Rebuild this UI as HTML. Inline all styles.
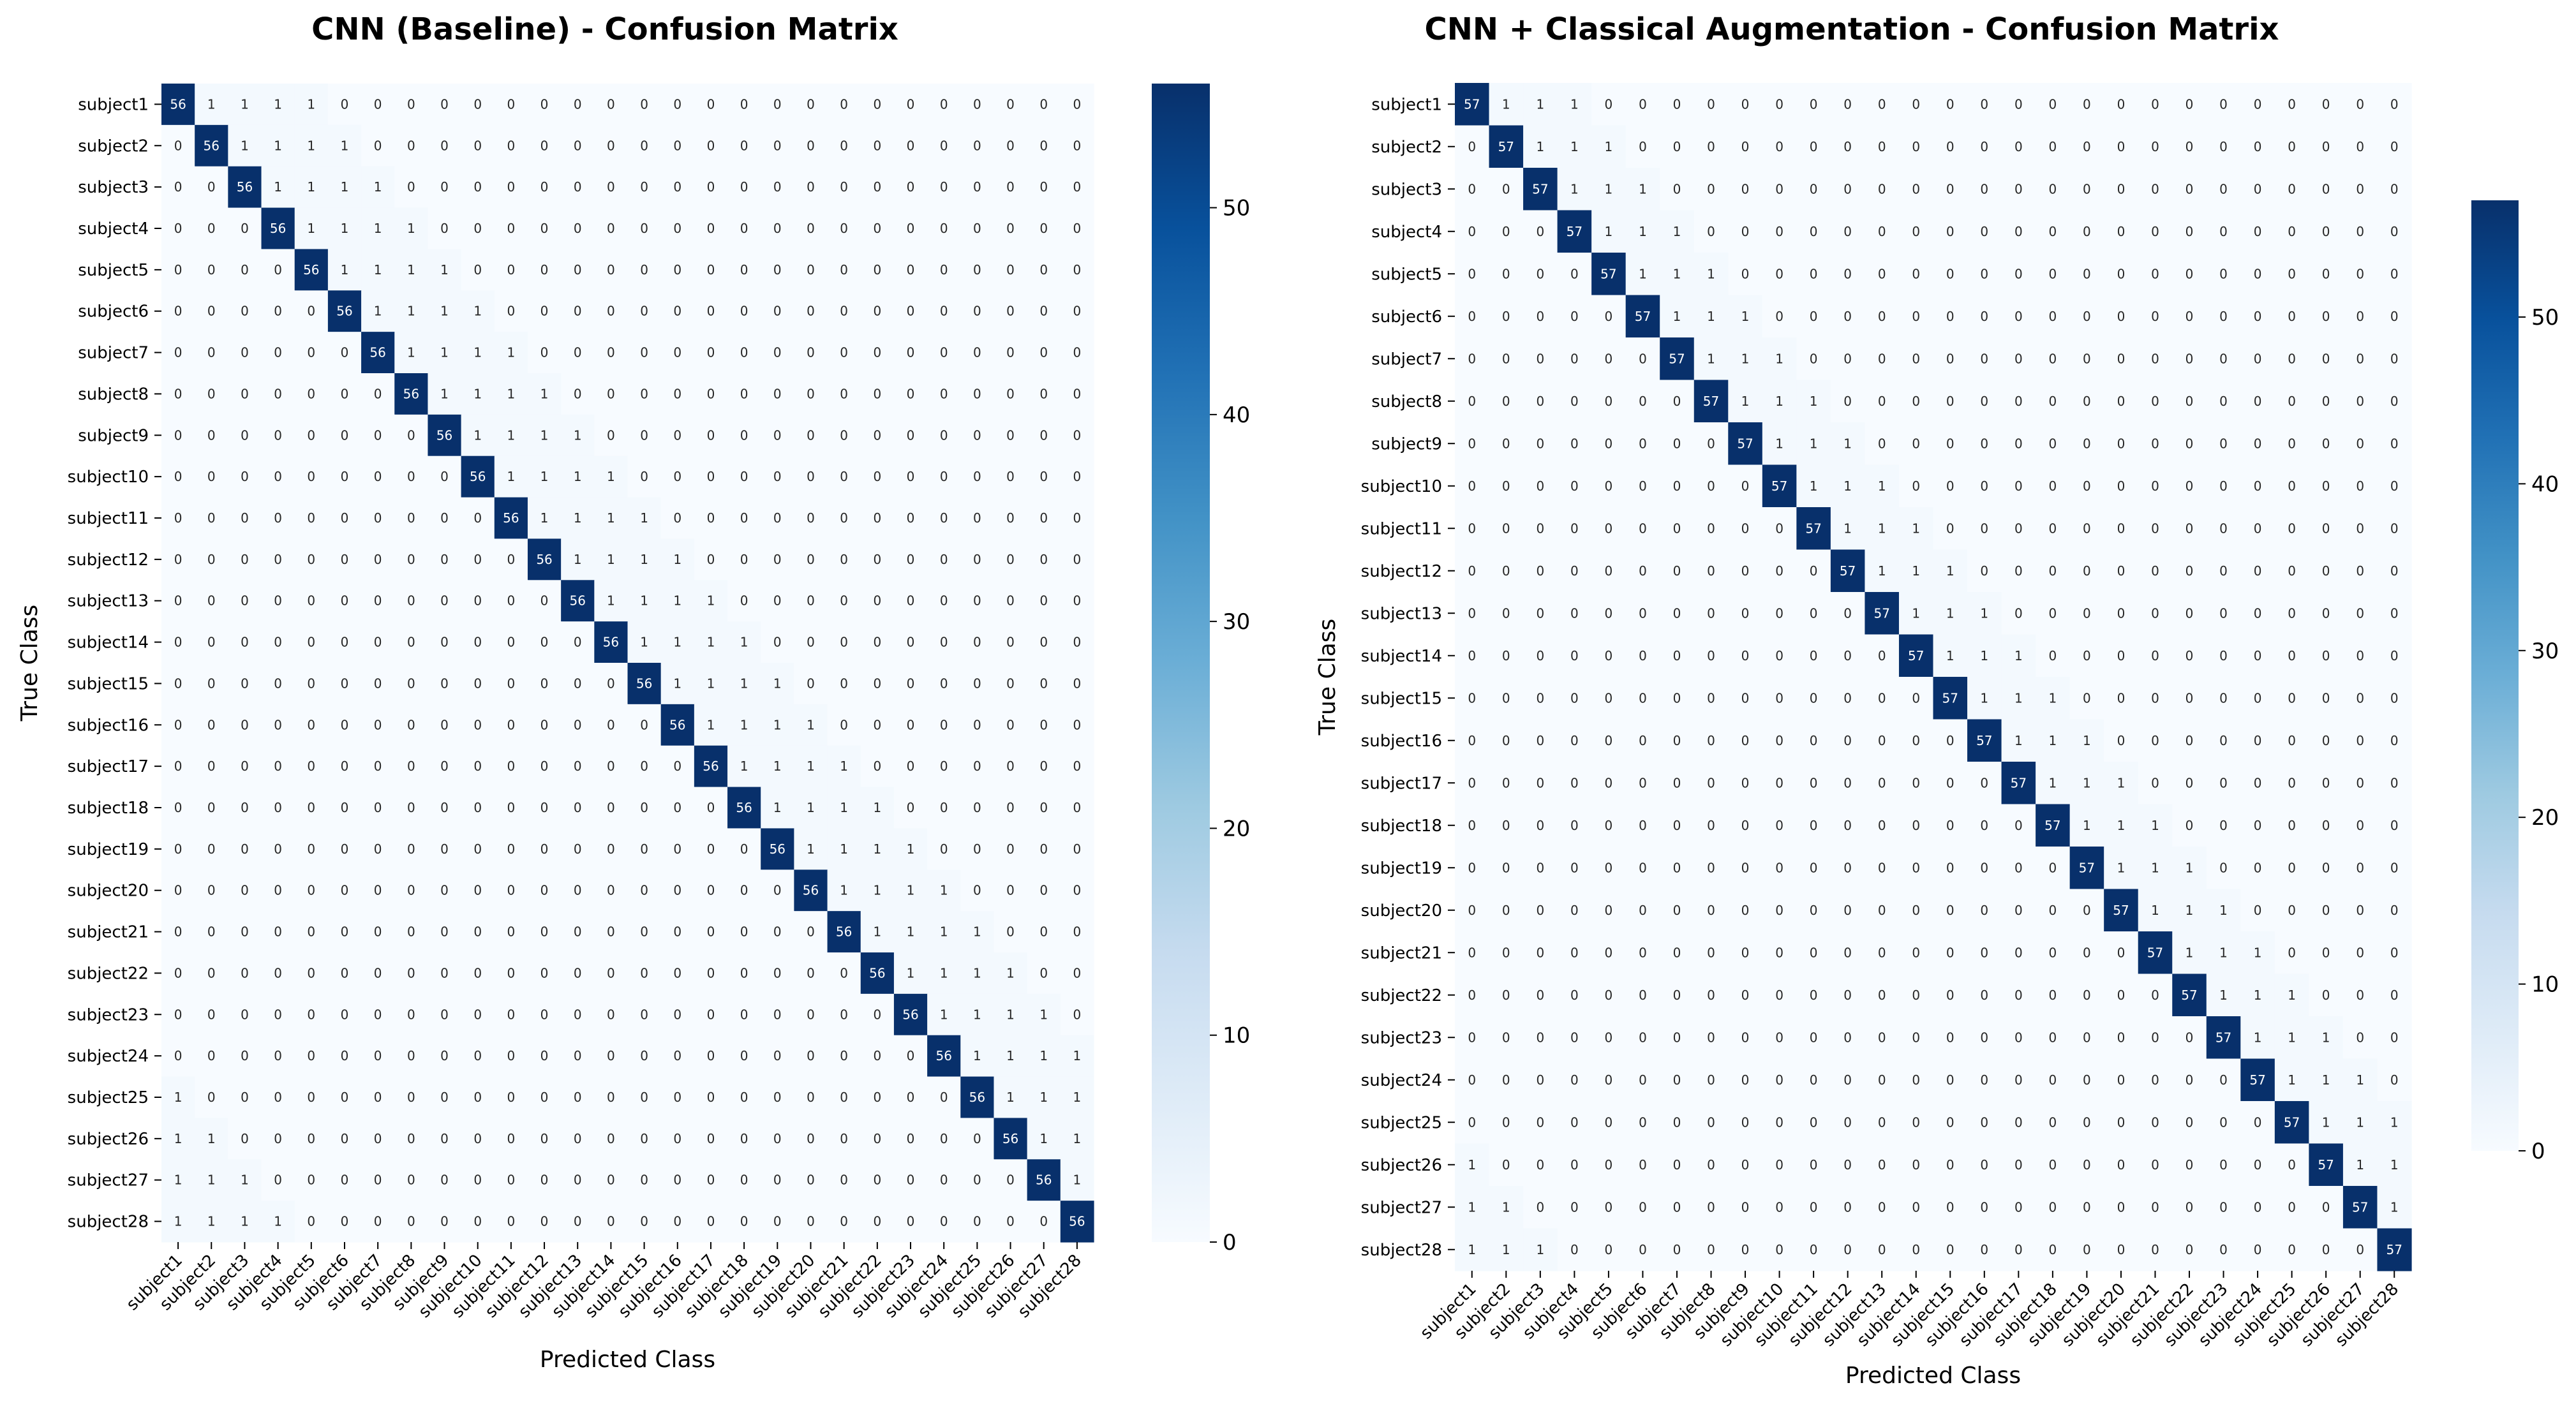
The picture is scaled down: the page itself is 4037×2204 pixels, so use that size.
<!DOCTYPE html>
<html><head><meta charset="utf-8"><style>
html,body{margin:0;padding:0;background:#fff;}
svg{display:block;font-family:"DejaVu Sans","Liberation Sans",sans-serif;}
</style></head><body>
<svg id="fig" xmlns="http://www.w3.org/2000/svg" width="4037" height="2204" viewBox="0 0 4037 2204">
<defs>
<linearGradient id="blues" x1="0" y1="1" x2="0" y2="0">
<stop offset="0" stop-color="#f7fbff"/><stop offset="0.125" stop-color="#deebf7"/><stop offset="0.25" stop-color="#c6dbef"/><stop offset="0.375" stop-color="#9ecae1"/><stop offset="0.5" stop-color="#6baed6"/><stop offset="0.625" stop-color="#4292c6"/><stop offset="0.75" stop-color="#2171b5"/><stop offset="0.875" stop-color="#08519c"/><stop offset="1" stop-color="#08306b"/>
</linearGradient>
</defs>
</svg>
<script>
const classLabels = ["subject1","subject2","subject3","subject4","subject5","subject6","subject7","subject8","subject9","subject10","subject11","subject12","subject13","subject14","subject15","subject16","subject17","subject18","subject19","subject20","subject21","subject22","subject23","subject24","subject25","subject26","subject27","subject28"];
const colorbarTicksA = [0,10,20,30,40,50];
const colorbarTicksB = [0,10,20,30,40,50];
const baselineMatrix = [
[56,1,1,1,1,0,0,0,0,0,0,0,0,0,0,0,0,0,0,0,0,0,0,0,0,0,0,0],
[0,56,1,1,1,1,0,0,0,0,0,0,0,0,0,0,0,0,0,0,0,0,0,0,0,0,0,0],
[0,0,56,1,1,1,1,0,0,0,0,0,0,0,0,0,0,0,0,0,0,0,0,0,0,0,0,0],
[0,0,0,56,1,1,1,1,0,0,0,0,0,0,0,0,0,0,0,0,0,0,0,0,0,0,0,0],
[0,0,0,0,56,1,1,1,1,0,0,0,0,0,0,0,0,0,0,0,0,0,0,0,0,0,0,0],
[0,0,0,0,0,56,1,1,1,1,0,0,0,0,0,0,0,0,0,0,0,0,0,0,0,0,0,0],
[0,0,0,0,0,0,56,1,1,1,1,0,0,0,0,0,0,0,0,0,0,0,0,0,0,0,0,0],
[0,0,0,0,0,0,0,56,1,1,1,1,0,0,0,0,0,0,0,0,0,0,0,0,0,0,0,0],
[0,0,0,0,0,0,0,0,56,1,1,1,1,0,0,0,0,0,0,0,0,0,0,0,0,0,0,0],
[0,0,0,0,0,0,0,0,0,56,1,1,1,1,0,0,0,0,0,0,0,0,0,0,0,0,0,0],
[0,0,0,0,0,0,0,0,0,0,56,1,1,1,1,0,0,0,0,0,0,0,0,0,0,0,0,0],
[0,0,0,0,0,0,0,0,0,0,0,56,1,1,1,1,0,0,0,0,0,0,0,0,0,0,0,0],
[0,0,0,0,0,0,0,0,0,0,0,0,56,1,1,1,1,0,0,0,0,0,0,0,0,0,0,0],
[0,0,0,0,0,0,0,0,0,0,0,0,0,56,1,1,1,1,0,0,0,0,0,0,0,0,0,0],
[0,0,0,0,0,0,0,0,0,0,0,0,0,0,56,1,1,1,1,0,0,0,0,0,0,0,0,0],
[0,0,0,0,0,0,0,0,0,0,0,0,0,0,0,56,1,1,1,1,0,0,0,0,0,0,0,0],
[0,0,0,0,0,0,0,0,0,0,0,0,0,0,0,0,56,1,1,1,1,0,0,0,0,0,0,0],
[0,0,0,0,0,0,0,0,0,0,0,0,0,0,0,0,0,56,1,1,1,1,0,0,0,0,0,0],
[0,0,0,0,0,0,0,0,0,0,0,0,0,0,0,0,0,0,56,1,1,1,1,0,0,0,0,0],
[0,0,0,0,0,0,0,0,0,0,0,0,0,0,0,0,0,0,0,56,1,1,1,1,0,0,0,0],
[0,0,0,0,0,0,0,0,0,0,0,0,0,0,0,0,0,0,0,0,56,1,1,1,1,0,0,0],
[0,0,0,0,0,0,0,0,0,0,0,0,0,0,0,0,0,0,0,0,0,56,1,1,1,1,0,0],
[0,0,0,0,0,0,0,0,0,0,0,0,0,0,0,0,0,0,0,0,0,0,56,1,1,1,1,0],
[0,0,0,0,0,0,0,0,0,0,0,0,0,0,0,0,0,0,0,0,0,0,0,56,1,1,1,1],
[1,0,0,0,0,0,0,0,0,0,0,0,0,0,0,0,0,0,0,0,0,0,0,0,56,1,1,1],
[1,1,0,0,0,0,0,0,0,0,0,0,0,0,0,0,0,0,0,0,0,0,0,0,0,56,1,1],
[1,1,1,0,0,0,0,0,0,0,0,0,0,0,0,0,0,0,0,0,0,0,0,0,0,0,56,1],
[1,1,1,1,0,0,0,0,0,0,0,0,0,0,0,0,0,0,0,0,0,0,0,0,0,0,0,56]
];
const augMatrix = [
[57,1,1,1,0,0,0,0,0,0,0,0,0,0,0,0,0,0,0,0,0,0,0,0,0,0,0,0],
[0,57,1,1,1,0,0,0,0,0,0,0,0,0,0,0,0,0,0,0,0,0,0,0,0,0,0,0],
[0,0,57,1,1,1,0,0,0,0,0,0,0,0,0,0,0,0,0,0,0,0,0,0,0,0,0,0],
[0,0,0,57,1,1,1,0,0,0,0,0,0,0,0,0,0,0,0,0,0,0,0,0,0,0,0,0],
[0,0,0,0,57,1,1,1,0,0,0,0,0,0,0,0,0,0,0,0,0,0,0,0,0,0,0,0],
[0,0,0,0,0,57,1,1,1,0,0,0,0,0,0,0,0,0,0,0,0,0,0,0,0,0,0,0],
[0,0,0,0,0,0,57,1,1,1,0,0,0,0,0,0,0,0,0,0,0,0,0,0,0,0,0,0],
[0,0,0,0,0,0,0,57,1,1,1,0,0,0,0,0,0,0,0,0,0,0,0,0,0,0,0,0],
[0,0,0,0,0,0,0,0,57,1,1,1,0,0,0,0,0,0,0,0,0,0,0,0,0,0,0,0],
[0,0,0,0,0,0,0,0,0,57,1,1,1,0,0,0,0,0,0,0,0,0,0,0,0,0,0,0],
[0,0,0,0,0,0,0,0,0,0,57,1,1,1,0,0,0,0,0,0,0,0,0,0,0,0,0,0],
[0,0,0,0,0,0,0,0,0,0,0,57,1,1,1,0,0,0,0,0,0,0,0,0,0,0,0,0],
[0,0,0,0,0,0,0,0,0,0,0,0,57,1,1,1,0,0,0,0,0,0,0,0,0,0,0,0],
[0,0,0,0,0,0,0,0,0,0,0,0,0,57,1,1,1,0,0,0,0,0,0,0,0,0,0,0],
[0,0,0,0,0,0,0,0,0,0,0,0,0,0,57,1,1,1,0,0,0,0,0,0,0,0,0,0],
[0,0,0,0,0,0,0,0,0,0,0,0,0,0,0,57,1,1,1,0,0,0,0,0,0,0,0,0],
[0,0,0,0,0,0,0,0,0,0,0,0,0,0,0,0,57,1,1,1,0,0,0,0,0,0,0,0],
[0,0,0,0,0,0,0,0,0,0,0,0,0,0,0,0,0,57,1,1,1,0,0,0,0,0,0,0],
[0,0,0,0,0,0,0,0,0,0,0,0,0,0,0,0,0,0,57,1,1,1,0,0,0,0,0,0],
[0,0,0,0,0,0,0,0,0,0,0,0,0,0,0,0,0,0,0,57,1,1,1,0,0,0,0,0],
[0,0,0,0,0,0,0,0,0,0,0,0,0,0,0,0,0,0,0,0,57,1,1,1,0,0,0,0],
[0,0,0,0,0,0,0,0,0,0,0,0,0,0,0,0,0,0,0,0,0,57,1,1,1,0,0,0],
[0,0,0,0,0,0,0,0,0,0,0,0,0,0,0,0,0,0,0,0,0,0,57,1,1,1,0,0],
[0,0,0,0,0,0,0,0,0,0,0,0,0,0,0,0,0,0,0,0,0,0,0,57,1,1,1,0],
[0,0,0,0,0,0,0,0,0,0,0,0,0,0,0,0,0,0,0,0,0,0,0,0,57,1,1,1],
[1,0,0,0,0,0,0,0,0,0,0,0,0,0,0,0,0,0,0,0,0,0,0,0,0,57,1,1],
[1,1,0,0,0,0,0,0,0,0,0,0,0,0,0,0,0,0,0,0,0,0,0,0,0,0,57,1],
[1,1,1,0,0,0,0,0,0,0,0,0,0,0,0,0,0,0,0,0,0,0,0,0,0,0,0,57]
];

const NS = "http://www.w3.org/2000/svg";
const svg = document.getElementById("fig");
function mk(tag, attrs, parent) {
  const e = document.createElementNS(NS, tag);
  for (const k in attrs) e.setAttribute(k, attrs[k]);
  (parent || svg).appendChild(e);
  return e;
}
const stops = [[0,[247,251,255]],[0.125,[222,235,247]],[0.25,[198,219,239]],[0.375,[158,202,225]],[0.5,[107,174,214]],[0.625,[66,146,198]],[0.75,[33,113,181]],[0.875,[8,81,156]],[1,[8,48,107]]];
function blues(t) {
  t = Math.max(0, Math.min(1, t));
  for (let i = 1; i < stops.length; i++) {
    if (t <= stops[i][0]) {
      const a = stops[i-1], b = stops[i];
      const f = (t - a[0]) / (b[0] - a[0]);
      const c = a[1].map((v, k) => Math.round(v + (b[1][k] - v) * f));
      return "rgb(" + c.join(",") + ")";
    }
  }
  return "rgb(8,48,107)";
}

function drawPanel(cfg) {
  const m = cfg.matrix, n = classLabels.length;
  const vmax = Math.max(...m.flat());
  const cw = (cfg.x1 - cfg.x0) / n, ch = (cfg.y1 - cfg.y0) / n;
  const xPos = j => cfg.x0 + j * cw;
  const yPos = i => cfg.y0 + i * ch;
  const g = mk("g", {});
  
  

  const title = mk("text", {x: cfg.titleX, y: 62, "text-anchor": "middle", "font-size": 48, "font-weight": "bold", fill: "#000"});
  title.textContent = cfg.title;
  
  

  for (let i = 0; i < n; i++) {
    for (let j = 0; j < n; j++) {
      const v = m[i][j];
      const r = mk("rect", {x: xPos(j), y: yPos(i), width: cw + 0.6, height: ch + 0.6, fill: blues(v / vmax)}, g);
      
      
      const t = mk("text", {x: xPos(j) + cw / 2, y: yPos(i) + ch / 2 + 7, "text-anchor": "middle", "font-size": 20, fill: v / vmax > 0.5 ? "#ffffff" : "#262626"}, g);
      t.textContent = v;
      
      
    }
  }
  for (let i = 0; i < n; i++) {
    const yc = yPos(i) + ch / 2;
    const tk = mk("line", {x1: cfg.x0 - 11, x2: cfg.x0, y1: yc, y2: yc, stroke: "#000", "stroke-width": 2});
    
    
    const lb = mk("text", {x: cfg.x0 - 20, y: yc + 9, "text-anchor": "end", "font-size": 26, fill: "#000"});
    lb.textContent = classLabels[i];
    
    
  }
  for (let j = 0; j < n; j++) {
    const xc = xPos(j) + cw / 2;
    const tk = mk("line", {x1: xc, x2: xc, y1: cfg.y1, y2: cfg.y1 + 11, stroke: "#000", "stroke-width": 2});
    
    
    const lb = mk("text", {x: 0, y: 0, "text-anchor": "end", "font-size": 26, fill: "#000", transform: "translate(" + (xc + 8) + "," + (cfg.y1 + 30) + ") rotate(-45)"});
    lb.textContent = classLabels[j];
    
    
  }
  const yl = mk("text", {x: 0, y: 0, "text-anchor": "middle", "font-size": 36, fill: "#000", transform: "translate(" + cfg.yLabelX + "," + ((cfg.y0 + cfg.y1) / 2) + ") rotate(-90)"});
  yl.textContent = "True Class";
  
  
  const xl = mk("text", {x: (cfg.x0 + cfg.x1) / 2, y: cfg.xLabelY, "text-anchor": "middle", "font-size": 36, fill: "#000"});
  xl.textContent = "Predicted Class";
  
  

  // colorbar
  const cb = mk("rect", {x: cfg.cbX0, y: cfg.cbY0, width: cfg.cbX1 - cfg.cbX0, height: cfg.cbY1 - cfg.cbY0, fill: "url(#blues)"});
  
  
  const cbY = v => cfg.cbY1 - (v / vmax) * (cfg.cbY1 - cfg.cbY0);
  cfg.cbTicks.forEach(v => {
    const y = cbY(v);
    const tk = mk("line", {x1: cfg.cbX1, x2: cfg.cbX1 + 11, y1: y, y2: y, stroke: "#000", "stroke-width": 2});
    
    
    const lb = mk("text", {x: cfg.cbX1 + 20, y: y + 12, "font-size": 34, fill: "#000"});
    lb.textContent = v;
    
    
  });
}

drawPanel({name: "baseline", matrix: baselineMatrix, title: "CNN (Baseline) - Confusion Matrix", titleX: 948,
  x0: 253, x1: 1714, y0: 131, y1: 1947, yLabelX: 58, xLabelY: 2143,
  cbX0: 1805, cbX1: 1896, cbY0: 131, cbY1: 1947, cbTicks: colorbarTicksA});
drawPanel({name: "augmented", matrix: augMatrix, title: "CNN + Classical Augmentation - Confusion Matrix", titleX: 2902,
  x0: 2280, x1: 3779, y0: 130, y1: 1992, yLabelX: 2092, xLabelY: 2168,
  cbX0: 3873, cbX1: 3947, cbY0: 314, cbY1: 1804, cbTicks: colorbarTicksB});
</script>
</body></html>
